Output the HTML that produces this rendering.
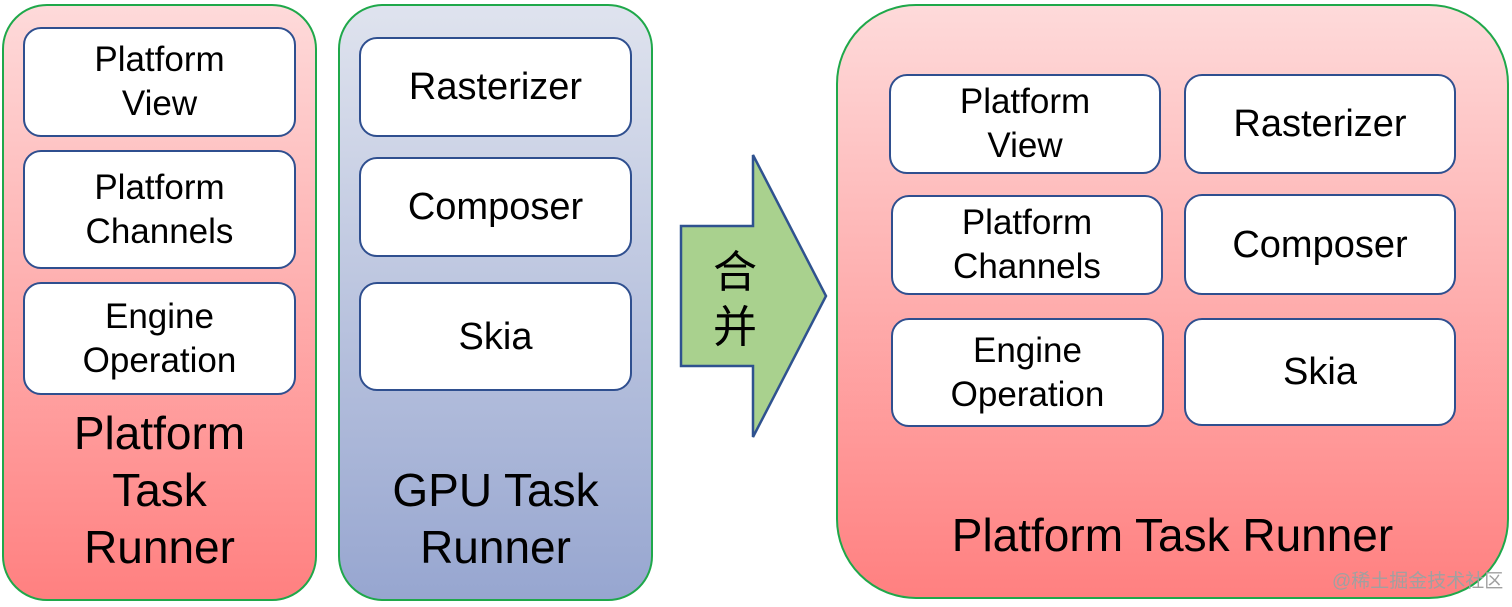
<!DOCTYPE html>
<html><head><meta charset="utf-8"><style>
body{margin:0;width:1512px;height:607px;background:#fff;position:relative;overflow:hidden;font-family:"Liberation Sans","DejaVu Sans",sans-serif;color:#000}
.p{position:absolute;border:2.5px solid #1fa84a;box-sizing:border-box}
.red{background:linear-gradient(#fedada,#ff8080)}
.blue{background:linear-gradient(#dfe3ee,#97a6d0)}
.b{position:absolute;background:#fff;border:2.5px solid #2f4f8f;border-radius:18px;box-sizing:border-box;display:flex;align-items:center;justify-content:center;text-align:center;font-size:35px;line-height:44px}
.t{position:absolute;text-align:center;font-size:46px;line-height:57px}
</style></head><body>
<div class="p red" style="left:2px;top:4px;width:315px;height:597px;border-radius:45px"></div>
<div class="b" style="left:23px;top:27px;width:273px;height:110px">Platform<br>View</div>
<div class="b" style="left:23px;top:150px;width:273px;height:119px">Platform<br>Channels</div>
<div class="b" style="left:23px;top:282px;width:273px;height:113px">Engine<br>Operation</div>
<div class="t" style="left:2px;top:405px;width:315px">Platform<br>Task<br>Runner</div>

<div class="p blue" style="left:338px;top:4px;width:315px;height:597px;border-radius:45px"></div>
<div class="b" style="left:359px;top:37px;width:273px;height:100px;font-size:38px">Rasterizer</div>
<div class="b" style="left:359px;top:157px;width:273px;height:100px;font-size:38px">Composer</div>
<div class="b" style="left:359px;top:282px;width:273px;height:109px;font-size:38px">Skia</div>
<div class="t" style="left:338px;top:462px;width:315px">GPU Task<br>Runner</div>

<svg style="position:absolute;left:0;top:0" width="1512" height="607">
<polygon points="681,226 753,226 753,155 826,296 753,437 753,366 681,366" fill="#a9d18e" stroke="#2f528f" stroke-width="2.5"/>
<text x="735" y="287" font-size="44" text-anchor="middle" font-family="'Noto Sans CJK SC',sans-serif">合</text>
<text x="735" y="342" font-size="44" text-anchor="middle" font-family="'Noto Sans CJK SC',sans-serif">并</text>
</svg>

<div class="p red" style="left:836px;top:4px;width:673px;height:595px;border-radius:80px"></div>
<div class="b" style="left:889px;top:74px;width:272px;height:100px">Platform<br>View</div>
<div class="b" style="left:891px;top:195px;width:272px;height:100px">Platform<br>Channels</div>
<div class="b" style="left:891px;top:318px;width:273px;height:109px">Engine<br>Operation</div>
<div class="b" style="left:1184px;top:74px;width:272px;height:100px;font-size:38px">Rasterizer</div>
<div class="b" style="left:1184px;top:194px;width:272px;height:101px;font-size:38px">Composer</div>
<div class="b" style="left:1184px;top:318px;width:272px;height:108px;font-size:38px">Skia</div>
<div class="t" style="left:836px;top:507px;width:673px">Platform Task Runner</div>
<div style="position:absolute;left:1332px;top:566px;font-size:19px;color:#a0a0a0;font-family:'Liberation Sans','Noto Sans CJK SC',sans-serif">@稀土掘金技术社区</div>
</body></html>
